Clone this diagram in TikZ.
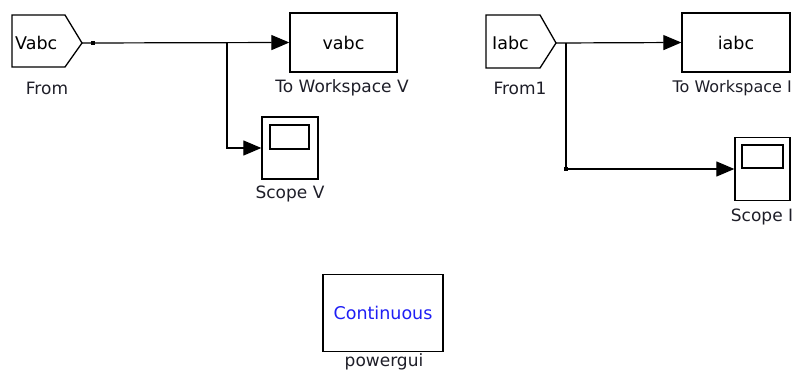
\documentclass[tikz,border=0pt]{standalone}
\usepackage{fontspec}
\setmainfont{DejaVu Sans}
\usetikzlibrary{arrows.meta}
\definecolor{contblue}{RGB}{30,30,245}
\definecolor{lblcol}{RGB}{30,30,40}
\tikzset{
  blockline/.style={draw=black, line width=1.3pt, line join=miter},
  block/.style={blockline, rectangle, inner sep=0pt, fill=white},
  intext/.style={inner sep=0pt, font=\fontsize{17.5}{20}\selectfont},
  lbl/.style={inner sep=0pt, text=lblcol, font=\fontsize{17}{20}\selectfont},
  wire/.style={draw=black, line width=1.2pt},
  sig/.style={wire, -{Triangle[length=18pt,width=15pt]}},
  junction/.style={rectangle, fill=black, minimum size=4.5pt, inner sep=0pt},
}
\begin{document}
\begin{tikzpicture}[x=1pt,y=-1pt]
\useasboundingbox (0,0) rectangle (795,372);

% ---------- voltage measurement branch ----------
\draw[blockline] (12,15) -- (65,15) -- (82,43) -- (65,67) -- (12,67) -- cycle;
\coordinate (fromV) at (82,43);
\node[intext, anchor=west] (vabcsrc) at (15,43) {Vabc};
\node[lbl] (fromVlbl) at (47,88) {From};

\node[block, minimum width=107pt, minimum height=59pt] (twsV) at (343.5,42.5) {};
\node[intext] (vabctxt) at (twsV.center) {vabc};
\node[lbl] (twsVlbl) at (342,88) {To Workspace V};

\node[block, minimum width=56pt, minimum height=62pt] (scopeV) at (290,148) {};
\draw[blockline] (270,125) rectangle (309,149);
\node[lbl] (scopeVlbl) at (290,194) {Scope V};

\coordinate (brV) at (227,43);
\draw[sig] (fromV) -- (twsV.west);
\draw[sig] (brV) |- (scopeV.west);
\node[junction] (jV) at (93,43) {};

% ---------- current measurement branch ----------
\draw[blockline] (486,15) -- (540,15) -- (556,43) -- (540,68) -- (486,68) -- cycle;
\coordinate (fromI) at (556,43);
\node[intext, anchor=west] (iabcsrc) at (492,43) {Iabc};
\node[lbl] (fromIlbl) at (520,88) {From1};

\node[block, minimum width=108pt, minimum height=59pt] (twsI) at (736,42.5) {};
\node[intext] (iabctxt) at (twsI.center) {iabc};
\node[lbl, anchor=east, font=\fontsize{16}{19}\selectfont] (twsIlbl) at (792,88) {To Workspace I};

\node[block, minimum width=55pt, minimum height=63pt] (scopeI) at (762.5,169) {};
\draw[blockline] (742,145) rectangle (783,168);
\node[lbl] (scopeIlbl) at (762,217) {Scope I};

\coordinate (brI) at (566,43);
\draw[sig] (fromI) -- (twsI.west);
\node[junction] (jI) at (566,169) {};
\draw[wire] (brI) -- (jI);
\draw[sig] (jI) -- (scopeI.west);

% ---------- powergui ----------
\node[block, minimum width=120pt, minimum height=77pt] (pgui) at (383,313) {};
\node[intext, text=contblue] (conttxt) at (pgui.center) {Continuous};
\node[lbl, anchor=base] (pguilbl) at (384,366.5) {powergui};
\end{tikzpicture}
\end{document}
